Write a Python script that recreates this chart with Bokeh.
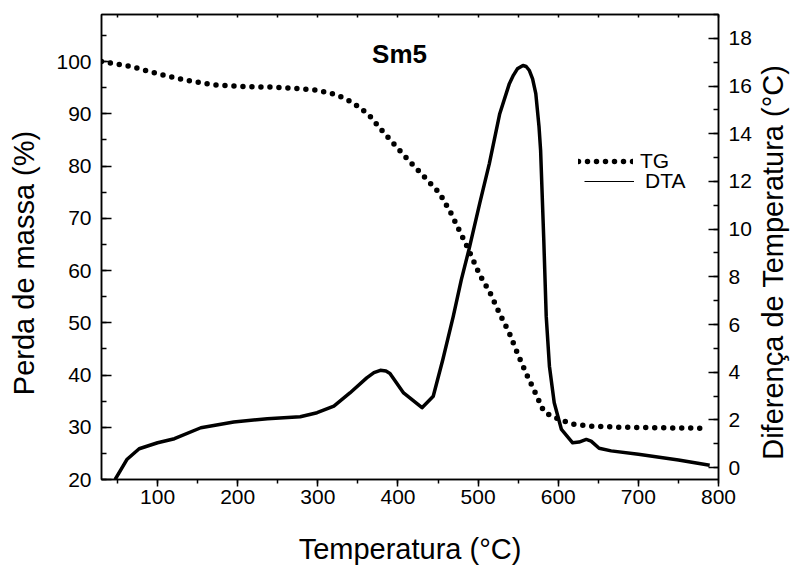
import math
from bokeh.plotting import figure
from bokeh.layouts import row
from bokeh.models import (Range1d, LinearAxis, SingleIntervalTicker, Label,
                          Legend, LegendItem, CustomJSTickFormatter)
from bokeh.embed import file_html
from bokeh.resources import INLINE

# ---- data ----
temp_tg = [30, 68, 102, 136, 171, 206, 242, 277, 300, 324, 343, 363, 380, 395,
           415, 433, 452, 466, 485, 502, 515, 527, 539, 549, 560, 572, 582,
           593, 607, 619, 640, 680, 730, 785]
tg = [100.0, 99.0, 97.6, 96.4, 95.5, 95.2, 95.1, 94.8, 94.5, 93.6, 92.2, 89.9,
      86.8, 84.2, 80.8, 77.9, 74.8, 71.0, 65.0, 59.2, 55.7, 51.7, 48.0, 44.2,
      40.3, 36.4, 33.0, 32.0, 31.2, 30.6, 30.2, 30.0, 29.9, 29.8]

temp_dta = [47, 62, 77, 100, 121, 154, 195, 237, 278, 299, 320, 340, 361, 370,
            378, 385, 390, 407, 430, 444, 456, 469, 479, 489, 502, 514, 527,
            539, 544, 549, 556, 560, 564, 568, 572, 576, 578, 582, 585, 589,
            595, 604, 618, 626, 635, 641, 651, 666, 700, 750, 789]
dta = [-0.5, 0.35, 0.79, 1.04, 1.21, 1.67, 1.91, 2.05, 2.13, 2.30, 2.58, 3.13,
       3.76, 3.98, 4.08, 4.05, 3.95, 3.13, 2.51, 2.99, 4.53, 6.34, 7.87, 9.2,
       11.08, 12.75, 14.84, 16.1, 16.45, 16.72, 16.86, 16.82, 16.65, 16.3,
       15.68, 14.3, 13.3, 9.5, 6.34, 4.25, 2.72, 1.60, 1.04, 1.07, 1.18, 1.11,
       0.81, 0.70, 0.56, 0.32, 0.10]

x_limits = (30, 800)
tg_limits = (20, 109)
dta_limits = (-0.5, 19)

title_text = "Sm5"
x_label = "Temperatura (°C)"
y_label = "Perda de massa (%)"
y2_label = "Diferença de Temperatura (°C)"
series_names = ["TG", "DTA"]

FONT = "Liberation Sans"
FIG_H = 567
LEFT_W = 45
RIGHT_W = 36

p = figure(width=754 - LEFT_W, height=FIG_H, output_backend="svg",
           toolbar_location=None,
           x_range=Range1d(*x_limits), y_range=Range1d(*tg_limits),
           min_border_left=101 - LEFT_W, min_border_right=34,
           min_border_top=14, min_border_bottom=87)
p.extra_y_ranges = {"dta": Range1d(*dta_limits)}
p.xgrid.visible = False
p.ygrid.visible = False
p.outline_line_color = "black"
p.outline_line_width = 1.5
p.background_fill_color = "white"
p.border_fill_color = "white"


def style_axis(ax):
    ax.axis_line_color = "black"
    ax.axis_line_width = 1.5
    ax.major_tick_line_color = "black"
    ax.major_tick_line_width = 1.5
    ax.minor_tick_line_color = "black"
    ax.minor_tick_line_width = 1.5
    ax.major_label_text_font = FONT
    ax.major_label_text_font_size = "21px"
    ax.major_label_text_color = "black"
    ax.axis_label_text_font = FONT
    ax.axis_label_text_font_size = "29px"
    ax.axis_label_text_font_style = "normal"
    ax.axis_label_text_color = "black"


# bottom axis
xa = p.xaxis[0]
style_axis(xa)
xa.ticker = SingleIntervalTicker(interval=100, num_minor_ticks=2)
xa.axis_label = x_label
xa.major_tick_in = 0
xa.major_tick_out = 7
xa.minor_tick_in = 0
xa.minor_tick_out = 4
xa.major_label_standoff = 3
xa.axis_label_standoff = 26

# left axis (its title is drawn in the left strip)
ya = p.yaxis[0]
style_axis(ya)
ya.ticker = SingleIntervalTicker(interval=10, num_minor_ticks=2)
ya.major_tick_in = 10
ya.major_tick_out = 0
ya.minor_tick_in = 5
ya.minor_tick_out = 0
ya.major_label_standoff = 10

# right axis (its title is drawn in the right strip)
ra = LinearAxis(y_range_name="dta")
style_axis(ra)
ra.ticker = SingleIntervalTicker(interval=2, num_minor_ticks=2)
ra.major_tick_in = 10
ra.major_tick_out = 0
ra.minor_tick_in = 5
ra.minor_tick_out = 0
ra.major_label_standoff = 10
p.add_layout(ra, "right")

# top axis (ticks only)
ta = LinearAxis()
style_axis(ta)
ta.ticker = SingleIntervalTicker(interval=50, num_minor_ticks=0)
ta.formatter = CustomJSTickFormatter(code="return ''")
ta.major_tick_in = 3
ta.major_tick_out = 0
ta.minor_tick_in = 0
ta.minor_tick_out = 0
ta.major_label_text_font_size = "1px"
ta.major_label_standoff = 0
p.add_layout(ta, "above")

# data
tg_r = p.line(temp_tg, tg, line_width=5.5, line_dash="0 9", line_cap="round",
              line_color="black")
dta_r = p.line(temp_dta, dta, y_range_name="dta", line_width=3.5,
               line_color="black", line_join="round")
# thin line used only as the legend key for DTA
dta_key = p.line(temp_dta, dta, y_range_name="dta", line_width=1.2,
                 line_color="black", visible=False)

leg_common = dict(padding=0, margin=0, spacing=0, border_line_color=None,
                  background_fill_alpha=0, label_text_font=FONT,
                  label_text_font_size="21px", label_text_color="black",
                  glyph_height=18, label_height=18)
leg_tg = Legend(items=[LegendItem(label=series_names[0], renderers=[tg_r])],
                location=(477, 306), glyph_width=55, label_standoff=7,
                **leg_common)
leg_dta = Legend(items=[LegendItem(label=series_names[1], renderers=[dta_key])],
                 location=(483, 286), glyph_width=50, label_standoff=11,
                 **leg_common)
p.add_layout(leg_tg)
p.add_layout(leg_dta)

# title inside the plot
p.add_layout(Label(x=402, y=101.5, text=title_text, text_font=FONT,
                   text_font_size="26px", text_font_style="bold",
                   text_align="center", text_baseline="middle",
                   text_color="black"))


def title_strip(width, text, x_center, y_center):
    s = figure(width=width, height=FIG_H, output_backend="svg",
               toolbar_location=None, x_range=Range1d(0, width),
               y_range=Range1d(0, FIG_H), x_axis_location=None,
               y_axis_location=None, min_border=0)
    s.outline_line_color = None
    s.xgrid.visible = False
    s.ygrid.visible = False
    s.background_fill_color = "white"
    s.border_fill_color = "white"
    s.add_layout(Label(x=x_center, y=y_center, text=text,
                       angle=math.pi / 2, text_font=FONT,
                       text_font_size="29px", text_align="center",
                       text_baseline="middle", text_color="black"))
    return s


left_strip = title_strip(LEFT_W, y_label, 23, 264)
right_strip = title_strip(RIGHT_W, y2_label, 18, 265)

layout = row(left_strip, p, right_strip, spacing=0)
open("out.html", "w").write(file_html(layout, INLINE))
